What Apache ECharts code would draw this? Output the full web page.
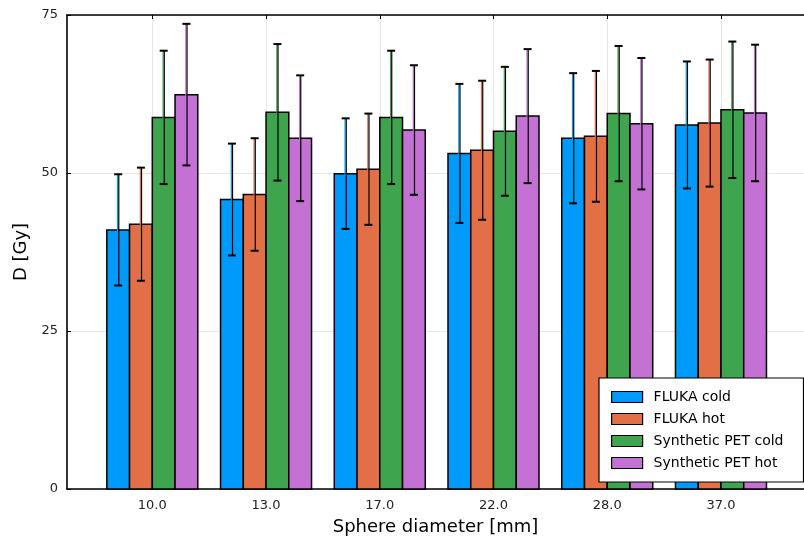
<!DOCTYPE html>
<html><head><meta charset="utf-8">
<script src="https://cdn.jsdelivr.net/npm/echarts@6/dist/echarts.min.js"></script>
<style>html,body{margin:0;padding:0;background:#fff}#c{width:804px;height:541px}</style>
</head><body><div id="c"></div>
<script>
const categories = ['10.0', '13.0', '17.0', '22.0', '28.0', '37.0'];
const seriesNames = ['FLUKA cold', 'FLUKA hot', 'Synthetic PET cold', 'Synthetic PET hot'];
const colors = ['#009AFA', '#E36F47', '#3EA44E', '#C371D2'];
const flukaCold = [41.0, 45.8, 49.9, 53.1, 55.5, 57.6];
const flukaHot = [41.9, 46.6, 50.6, 53.6, 55.8, 57.9];
const petCold = [58.8, 59.6, 58.8, 56.6, 59.4, 60.0];
const petHot = [62.4, 55.5, 56.8, 59.0, 57.8, 59.5];
const flukaColdErr = [8.8, 8.85, 8.75, 11.0, 10.3, 10.05];
const flukaHotErr = [8.95, 8.9, 8.8, 11.0, 10.35, 10.05];
const petColdErr = [10.55, 10.8, 10.55, 10.2, 10.7, 10.8];
const petHotErr = [11.2, 9.95, 10.25, 10.6, 10.4, 10.8];
const yTicks = [0, 25, 50, 75];

const values = [flukaCold, flukaHot, petCold, petHot];
const errs = [flukaColdErr, flukaHotErr, petColdErr, petHotErr];
const barW = 0.2;
const offsets = [-0.3, -0.1, 0.1, 0.3];
const catPos = categories.map((c, i) => i + 1);

function makeRender(si) {
  return function (params, api) {
    const x = api.value(0), v = api.value(1), e = api.value(2);
    const off = offsets[si];
    const p0 = api.coord([x + off - barW / 2, v]);
    const p1 = api.coord([x + off + barW / 2, 0]);
    const cx = api.coord([x + off, 0])[0];
    const top = api.coord([x + off, v + e])[1];
    const bot = api.coord([x + off, v - e])[1];
    const cap = 4;
    return {
      type: 'group',
      children: [
        { type: 'rect', shape: { x: p0[0], y: p0[1], width: p1[0] - p0[0], height: p1[1] - p0[1] },
          style: { fill: colors[si], stroke: '#000', lineWidth: 1.5 } },
        { type: 'line', shape: { x1: cx - 0.6, y1: top, x2: cx - 0.6, y2: bot }, style: { stroke: colors[si], lineWidth: 1.2 } },
        { type: 'line', shape: { x1: cx + 0.6, y1: top, x2: cx + 0.6, y2: bot }, style: { stroke: '#000', lineWidth: 1.2 } },
        { type: 'line', shape: { x1: cx - cap, y1: top, x2: cx + cap, y2: top }, style: { stroke: '#000', lineWidth: 2 } },
        { type: 'line', shape: { x1: cx - cap, y1: bot, x2: cx + cap, y2: bot }, style: { stroke: '#000', lineWidth: 2 } }
      ]
    };
  };
}

const series = seriesNames.map((name, si) => ({
  type: 'custom',
  name: name,
  renderItem: makeRender(si),
  encode: { x: 0, y: 1 },
  itemStyle: { color: colors[si], borderColor: '#000', borderWidth: 1 },
  data: catPos.map((p, i) => [p, values[si][i], errs[si][i]]),
  z: 2
}));

const chart = echarts.init(document.getElementById('c'), null, { renderer: 'canvas' });
const fontFam = 'DejaVu Sans';
chart.setOption({
  animation: false,
  backgroundColor: '#fff',
  textStyle: { fontFamily: fontFam },
  grid: { left: 67, top: 15, right: -8, bottom: 50, containLabel: false },
  xAxis: [{
    type: 'value', min: 0.25, max: 6.73, position: 'bottom',
    name: 'Sphere diameter [mm]', nameLocation: 'middle', nameGap: 29,
    nameTextStyle: { fontSize: 18, color: '#000', fontFamily: fontFam },
    axisLine: { show: true, onZero: false, lineStyle: { color: '#000', width: 1.6 } },
    axisTick: { show: true, inside: true, length: 4, customValues: catPos, lineStyle: { color: '#000' } },
    axisLabel: { customValues: catPos, formatter: v => categories[Math.round(v) - 1] || '', fontSize: 13, color: '#222', margin: 10, fontFamily: fontFam },
    splitLine: { show: true, lineStyle: { color: '#e6e6e6', width: 1 } }
  }, {
    type: 'value', min: 0.25, max: 6.73, position: 'top',
    axisLine: { show: true, onZero: false, lineStyle: { color: '#000', width: 1.6 } },
    axisTick: { show: true, inside: true, length: 4, customValues: catPos, lineStyle: { color: '#000' } },
    axisLabel: { show: false },
    splitLine: { show: false }
  }],
  yAxis: {
    type: 'value', min: 0, max: 75, interval: 25,
    name: 'D [Gy]', nameLocation: 'middle', nameGap: 36,
    nameTextStyle: { fontSize: 18, color: '#000', fontFamily: fontFam },
    axisLine: { show: true, lineStyle: { color: '#000', width: 1.6 } },
    axisTick: { show: true, inside: true, length: 4, lineStyle: { color: '#000' } },
    axisLabel: { fontSize: 13, color: '#222', margin: 9, fontFamily: fontFam, formatter: v => yTicks.includes(v) ? String(v) : '' },
    splitLine: { show: true, lineStyle: { color: '#e6e6e6', width: 1 } }
  },
  legend: {
    orient: 'vertical', left: 599, top: 378,
    backgroundColor: '#fff', borderColor: '#000', borderWidth: 1.2,
    padding: [11, 20, 11, 12],
    itemWidth: 31, itemHeight: 11, itemGap: 6,
    textStyle: { fontSize: 14, color: '#000', lineHeight: 16, fontFamily: fontFam, padding: [0, 0, 0, 6] },
    data: seriesNames.map((n, i) => ({ name: n, icon: 'rect', itemStyle: { color: colors[i], borderColor: '#000', borderWidth: 1.2 } }))
  },
  series: series
});
</script></body></html>
